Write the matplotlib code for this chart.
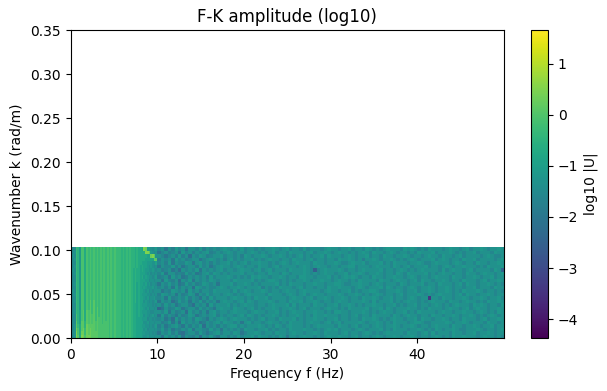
import numpy as np
import matplotlib
matplotlib.use("Agg")
import matplotlib.pyplot as plt

# log10 amplitudes, top row (largest k) first.
# 0-10 Hz block, 0.2 Hz per column; code c -> LOW_LEVELS[c]
LOW_LEVELS = dict(zip("0123456789ab", [-1.5, -1.3, -1.1, -0.9, -0.7, -0.5, -0.3, -0.1, 0.1, 0.3, 0.5, 0.7]))
LOW_ROWS = [
    "0006527747 6767676767 6767676665 6565655454 43a9221012",
    "0016527747 6767676767 6767676665 6565655454 444aa82101",
    "0106527747 6767676767 6767676665 6565655454 4444339a81",
    "0016527747 6767676767 6767676665 6565655454 4443333388",
    "1006527747 6767676767 6767676665 6565655454 4333222113",
    "0016527747 6767676767 6767676665 6565655454 3433212101",
    "0106527747 6767676767 6767676665 6565654544 3432211210",
    "0016527747 6767676767 6767676665 6565654544 3332120101",
    "0006527747 6767676767 6767676665 6565654544 3423211012",
    "1006527747 6767676767 6767676665 6565654544 3332201101",
    "0016527747 6767676767 6767676665 6565654534 3323120110",
    "0006527747 6767676767 6767676665 6565654534 3232111201",
    "0106527747 6767676767 6767676665 6565654534 3321201011",
    "0016527747 6767676767 6767676665 6565654534 3222110101",
    "0006527747 6767676767 6767676665 6565654534 3321201120",
    "0016527747 6868676767 6767676665 6565654534 3312101012",
    "1006527747 6868676767 6767676665 6565654434 3222111010",
    "0006527747 6868686767 6767676665 6565654434 3321201101",
    "0016537848 7868686767 6767676665 6565654434 3222110011",
    "0007537848 7878686767 6767676665 6565654434 3312101201",
    "0007537848 7878687767 6767676665 6565654433 3222011010",
    "0008538858 7878787767 7767676665 6565654433 3311201101",
    "0018648859 8888787777 7767676665 6565654433 3221101012",
    "0019748969 8988787777 7767676665 6565654433 3312011101",
    "001a749969 8988887777 7767676665 6565654433 3221101010",
    "001a84a979 9988887777 7767676665 6565654433 3211201101",
]

# 10-50 Hz block, 0.4 Hz per column; code d -> HIGH_LEVELS[d]
HIGH_LEVELS = [-3.4, -2.6, -2.4, -2.2, -2.0, -1.8, -1.6, -1.35, -1.15, -0.95]
HIGH_ROWS = [
    "6747586747 7685767678 7676867767 6778767867 7686777678 7767786776 8767678777 6878767687 7767877678 6778767787",
    "4675674867 5767856767 8767767876 7678677687 7767867787 6787767678 7687767876 7767687778 6777876767 7867776877",
    "7646758573 7687567786 7767587677 8767787676 7867677868 7776787677 8677687767 7876776787 7687767867 7776787667",
    "5767486756 7746787675 7867677867 6787767768 7767867767 7687787675 7787677876 7678767778 6787677687 7867777678",
    "6758476687 4786757677 8676786778 7767678767 8777687767 7876678778 6777867687 7767787667 8777678767 7687767787",
    "4766857467 7586746787 7678767768 7767867777 6787678776 7767788677 7678777687 6786777867 7678767787 7767687778",
    "7567463767 6847676786 7767877678 6786777687 7787616787 7787677678 7777867767 8767678777 7686787767 8677776872",
    "6847756586 7457868767 6777867767 7687768767 7787676787 7677867787 6778767768 7687777867 6787767768 7767877678",
    "5674867457 6767586777 8767676878 7767787677 6887767778 6767878767 7687767787 7678767767 8777687767 7876778677",
    "7486573768 4767687677 7687777867 6788767676 7787677877 6787767687 7776877678 7767868776 7787677687 7767867787",
    "4768674586 7568767477 7867787676 7777867687 7767787767 7887667787 7678767776 8767778677 6877767868 7767787676",
    "6757485767 3876766787 6778767778 5767687776 7867767768 7787776787 6777868767 7678767787 6778767767 7867776877",
    "7465876748 6757768777 7686787677 8767767877 6787777678 7767786767 7887667778 7677867787 6778767687 7787677676",
    "5876747568 7476867767 8767678777 7687776787 6786787767 7787677876 7678767767 8677787676 7877767868 7767787677",
    "6748567685 7647586777 6787767687 7867777678 7767867787 6778767768 7787677867 7678767707 7687767787 6778767786",
    "4767358674 7685767478 7767868767 7787677687 7867787677 6787767778 7686777867 6787767678 7776877678 7767687787",
    "7586746775 3767486777 8676787767 7678777868 6777687767 7867787676 7787767786 7677867767 8767678777 6878767768",
    "2475687467 7586764787 7687767867 6778767787 6786777678 7767687777 8677868767 7787767687 7767877678 6787767787",
    "7684756738 6757478677 6787776787 7677867678 7767787767 6887767778 7676787767 7867687777 6787767787 7678767687",
    "4857647568 7467678576 7767868767 6778767677 8767687787 7767767867 7687777687 6787767768 7767787677 8767678767",
    "6746385767 5876476787 6787776767 8677687778 6767787767 7867767768 7787676787 7677868776 7787677687 7767867787",
    "7568473867 6745767868 7767478677 6787767687 7767877678 6786777787 6778767687 7767887667 7778767787 6777687767",
    "5746786475 7683767576 7886767778 7676876787 7767678777 7687767867 7678767787 6778767767 8777687767 7876778677",
    "6857465768 4776586747 6767587767 7867677687 7787767678 7867776787 6777867687 7767787676 8767787667 7787677678",
    "4768574367 7586467857 7687467787 6776877678 7767787687 7767867767 8767678777 7687767868 6777687767 7867787677",
    "7486758476 5737686477 5768677868 7767687477 6787767678 7787767867 7678767787 6778767767 8767687787 7767877676",
]
FREQ_LOW_STEP = 0.2
FREQ_HIGH_STEP = 0.4
K_STEP = 0.00396
VMIN, VMAX = -4.37, 1.66

low = np.array([[LOW_LEVELS[c] for c in r.replace(" ", "")] for r in LOW_ROWS])[::-1]
high = np.array([[HIGH_LEVELS[int(c)] for c in r.replace(" ", "")] for r in HIGH_ROWS])[::-1]

f_low = np.arange(low.shape[1] + 1) * FREQ_LOW_STEP
f_high = f_low[-1] + np.arange(high.shape[1] + 1) * FREQ_HIGH_STEP
k = np.arange(low.shape[0] + 1) * K_STEP

fig = plt.figure(figsize=(6.07, 3.91), dpi=100)
ax = fig.add_axes([70.5 / 607, 1 - 338 / 391, 433.5 / 607, 308 / 391])
cax = fig.add_axes([531 / 607, 1 - 338 / 391, 17 / 607, 308 / 391])

mesh = ax.pcolormesh(f_low, k, low, cmap="viridis", vmin=VMIN, vmax=VMAX, shading="flat")
ax.pcolormesh(f_high, k, high, cmap="viridis", vmin=VMIN, vmax=VMAX, shading="flat")
ax.set_xlim(0, 50)
ax.set_ylim(0, 0.35)
ax.set_xticks([0, 10, 20, 30, 40])
ax.set_yticks([0, 0.05, 0.10, 0.15, 0.20, 0.25, 0.30, 0.35])
ax.set_xlabel("Frequency f (Hz)")
ax.set_ylabel("Wavenumber k (rad/m)", labelpad=5)
ax.set_title("F-K amplitude (log10)")
cb = fig.colorbar(mesh, cax=cax)
cb.set_label("log10 |U|")
fig.savefig("out.png", dpi=100)
